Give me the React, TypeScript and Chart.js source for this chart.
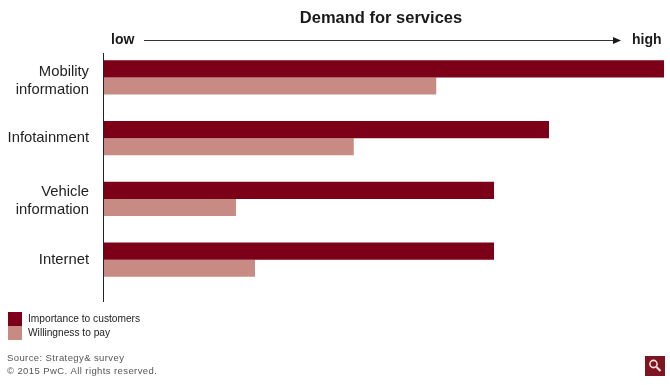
import React, { useEffect, useRef } from "react";
import { Chart, registerables } from "chart.js";

Chart.register(...registerables);

const categories = [["Mobility", "information"], ["Infotainment"], ["Vehicle", "information"], ["Internet"]];
const importance = [100, 79.5, 69.7, 69.7];
const willingness = [59.4, 44.7, 23.7, 27.1];
const seriesNames = ["Importance to customers", "Willingness to pay"];
const titleText = "Demand for services";
const lowLabel = "low";
const highLabel = "high";
const sourceLines = ["Source: Strategy& survey", "© 2015 PwC. All rights reserved."];

const DARK = "#7d0019";
const LIGHT = "#c78b83";
const FONT = '"Liberation Sans", Arial, sans-serif';

const labelShift = {
  id: "labelShift",
  beforeDraw(chart: any) {
    const nudges = [4, 0, 2, 0];
    chart.scales.y.getLabelItems().forEach((item: any, i: number) => {
      if (!item.__shifted) {
        item.options.translation[1] += nudges[i] || 0;
        item.__shifted = true;
      }
    });
  },
};

const decor = {
  id: "decor",
  afterDraw(chart: any) {
    const c = chart.ctx;
    const left = chart.chartArea.left;
    c.save();
    // vertical axis
    c.strokeStyle = "#222";
    c.lineWidth = 1;
    c.beginPath();
    c.moveTo(left + 0.5, 53);
    c.lineTo(left + 0.5, 302);
    c.stroke();
    // title + low/high
    c.textBaseline = "middle";
    c.fillStyle = "#1a1a1a";
    c.textAlign = "center";
    c.font = `bold 16.5px ${FONT}`;
    c.fillText(titleText, 381, 18);
    c.font = `bold 14px ${FONT}`;
    c.textAlign = "left";
    c.fillText(lowLabel, 111, 40);
    c.fillText(highLabel, 632, 40);
    // arrow
    c.strokeStyle = "#333";
    c.beginPath();
    c.moveTo(144, 40.5);
    c.lineTo(616, 40.5);
    c.stroke();
    c.fillStyle = "#1a1a1a";
    c.beginPath();
    c.moveTo(621, 40.5);
    c.lineTo(613, 37);
    c.lineTo(613, 44);
    c.closePath();
    c.fill();
    // legend
    c.fillStyle = DARK;
    c.fillRect(8, 312, 14, 14);
    c.fillStyle = LIGHT;
    c.fillRect(8, 326, 14, 14);
    c.fillStyle = "#222";
    c.font = `10.2px ${FONT}`;
    seriesNames.forEach((n, i) => c.fillText(n, 28, 319.5 + i * 13.5));
    // source
    c.fillStyle = "#555";
    c.font = `9.5px ${FONT}`;
    (c as any).letterSpacing = "0.4px";
    sourceLines.forEach((s, i) => c.fillText(s, 7, 358 + i * 13));
    (c as any).letterSpacing = "0px";
    // magnifier icon
    c.fillStyle = "#7d1420";
    c.fillRect(645, 356, 20, 20);
    c.strokeStyle = "#f3dcdc";
    c.lineWidth = 1.6;
    c.beginPath();
    c.arc(653.5, 364, 3.6, 0, Math.PI * 2);
    c.stroke();
    c.lineWidth = 2.2;
    c.beginPath();
    c.moveTo(656.5, 367);
    c.lineTo(660.5, 371);
    c.stroke();
    c.restore();
  },
};

export default function App() {
  const ref = useRef<HTMLCanvasElement>(null);
  useEffect(() => {
    const chart = new Chart(ref.current!, {
      type: "bar",
      data: {
        labels: categories as any,
        datasets: [
          { label: seriesNames[0], data: importance, backgroundColor: DARK },
          { label: seriesNames[1], data: willingness, backgroundColor: LIGHT },
        ],
      },
      options: {
        indexAxis: "y",
        responsive: false,
        animation: false,
        layout: { padding: { top: 47, bottom: 95, right: 6, left: 0 } },
        datasets: { bar: { categoryPercentage: 0.56, barPercentage: 1 } },
        plugins: { legend: { display: false }, title: { display: false }, tooltip: { enabled: false } },
        scales: {
          x: { display: false, min: 0, max: 100 },
          y: {
            border: { display: false },
            grid: { display: false },
            ticks: {
              color: "#222",
              padding: 6,
              autoSkip: false,
              font: { family: FONT, size: 14.8, lineHeight: 1.22 },
            },
            afterFit(scale: any) {
              scale.width = 103;
            },
          },
        },
      },
      plugins: [labelShift, decor],
    } as any);
    return () => chart.destroy();
  }, []);
  return (
    <div style={{ position: "fixed", left: 0, top: 0, width: 670, height: 385, background: "#fff" }}>
      <canvas ref={ref} width={670} height={385} style={{ display: "block" }} />
    </div>
  );
}
